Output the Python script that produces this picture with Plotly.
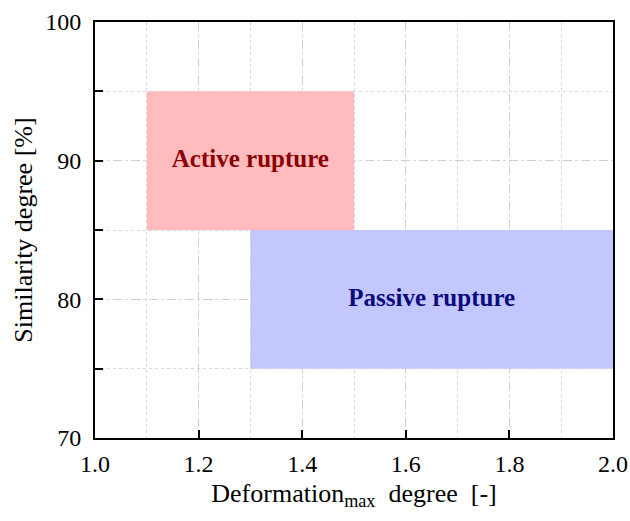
import plotly.graph_objects as go

region_names = ["Active rupture", "Passive rupture"]
x_min = [1.1, 1.3]
x_max = [1.5, 2.0]
y_min = [85, 75]
y_max = [95, 85]
label_x = [1.3, 1.65]
label_y = [90, 80]
fill_colors = ["#FFBBBD", "#C4C7FD"]
text_colors = ["#8B0000", "#0B0B7E"]

x_ticks = [1.0, 1.2, 1.4, 1.6, 1.8, 2.0]
y_ticks = [70, 80, 90, 100]
x_title = "Deformation<sub>max</sub>  degree  [-]"
y_title = "Similarity degree [%]"

FONT = "Liberation Serif, Times New Roman, serif"

fig = go.Figure()
for i, name in enumerate(region_names):
    fig.add_trace(go.Scatter(
        x=[x_min[i], x_max[i], x_max[i], x_min[i], x_min[i]],
        y=[y_min[i], y_min[i], y_max[i], y_max[i], y_min[i]],
        mode="lines", fill="toself", fillcolor=fill_colors[i],
        line=dict(width=0, color=fill_colors[i]), hoverinfo="skip", showlegend=False,
    ))
    fig.add_trace(go.Scatter(
        x=[label_x[i]], y=[label_y[i]], mode="text", text=[f"<b>{name}</b>"],
        textfont=dict(family=FONT, size=25, color=text_colors[i]),
        hoverinfo="skip", showlegend=False,
    ))

axis_common = dict(
    showline=True, linecolor="black", linewidth=2, mirror=True,
    ticks="inside", ticklen=8, tickwidth=2, tickcolor="black",
    showgrid=True, gridcolor="#CFCFCF", gridwidth=1, griddash="dash",
    tickfont=dict(family=FONT, size=24, color="black"),
    zeroline=False, automargin=False,
)

fig.update_layout(
    width=630, height=521,
    margin=dict(l=95, r=17, t=22, b=83),
    paper_bgcolor="white", plot_bgcolor="white",
    xaxis=dict(
        range=[1.0, 2.0], tickvals=x_ticks, ticktext=[f"{v:.1f}" for v in x_ticks],
        ticklabelstandoff=3,
        title=dict(text=x_title, font=dict(family=FONT, size=26, color="black"), standoff=8),
        minor=dict(dtick=0.1, showgrid=True, gridcolor="#D8D8D8", griddash="dot", ticks=""),
        **axis_common,
    ),
    yaxis=dict(
        range=[70, 100], tickvals=y_ticks,
        ticklabelstandoff=7,
        title=dict(text=y_title, font=dict(family=FONT, size=26, color="black"), standoff=5),
        minor=dict(dtick=5, showgrid=True, gridcolor="#D8D8D8", griddash="dot",
                   ticks="inside", ticklen=8, tickwidth=2, tickcolor="black"),
        **axis_common,
    ),
)

fig.write_html("out.html")
